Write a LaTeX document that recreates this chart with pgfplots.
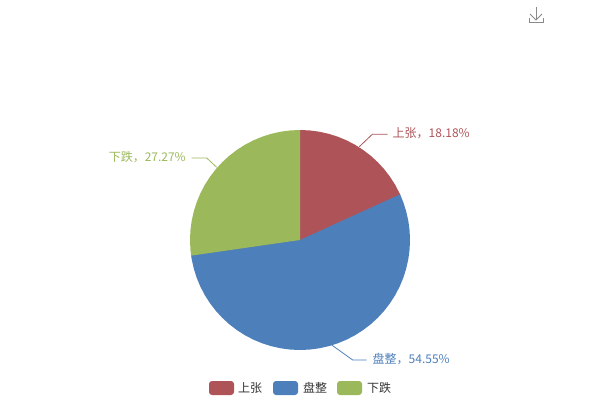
\documentclass[border=0pt]{standalone}
\usepackage{pgfplots}
\pgfplotsset{compat=1.18}
\usepackage{fontspec}
\setmainfont{Noto Sans CJK SC}
\definecolor{cred}{HTML}{AE5459}
\definecolor{cblue}{HTML}{4D7FBB}
\definecolor{cgreen}{HTML}{9BB95A}
\definecolor{ctext}{HTML}{333333}
\definecolor{cicon}{HTML}{8A8A8A}
\begin{document}
\begin{tikzpicture}
\begin{axis}[
  scale only axis, width=600pt, height=400pt,
  xmin=-300, xmax=300, ymin=-160, ymax=240,
  axis lines=none, clip=false,
  every axis plot/.append style={line join=round},
  nodes={font=\fontsize{12}{14}\selectfont, inner sep=0pt}
]
\path[use as bounding box] (axis cs:-300,-160) rectangle (axis cs:300,240);
% slices: 18.18 %, 54.55 %, 27.27 %
\addplot[data cs=polar, fill=cred, draw=none] coordinates {
 (0,0) (90,110) (85,110) (80,110) (75,110) (70,110) (65,110) (60,110) (55,110) (50,110)
 (45,110) (40,110) (35,110) (30,110) (25,110) (24.545,110)} \closedcycle;
\addplot[data cs=polar, fill=cblue, draw=none] coordinates {
 (0,0) (24.545,110) (20,110) (15,110) (10,110) (5,110) (0,110) (-5,110) (-10,110) (-15,110)
 (-20,110) (-25,110) (-30,110) (-35,110) (-40,110) (-45,110) (-50,110) (-55,110) (-60,110)
 (-65,110) (-70,110) (-75,110) (-80,110) (-85,110) (-90,110) (-95,110) (-100,110) (-105,110)
 (-110,110) (-115,110) (-120,110) (-125,110) (-130,110) (-135,110) (-140,110) (-145,110)
 (-150,110) (-155,110) (-160,110) (-165,110) (-170,110) (-171.82,110)} \closedcycle;
\addplot[data cs=polar, fill=cgreen, draw=none] coordinates {
 (0,0) (-171.82,110) (-175,110) (-180,110) (-185,110) (-190,110) (-195,110) (-200,110)
 (-205,110) (-210,110) (-215,110) (-220,110) (-225,110) (-230,110) (-235,110) (-240,110)
 (-245,110) (-250,110) (-255,110) (-260,110) (-265,110) (-270,110)} \closedcycle;
% leader lines
\addplot[cred, line width=0.8pt, no marks] coordinates {(59.3,93.3) (72.3,105.7) (87.7,105.7)};
\addplot[cgreen, line width=0.8pt, no marks] coordinates {(-83.3,72.7) (-93.3,82) (-108.3,82)};
\addplot[cblue, line width=0.8pt, no marks] coordinates {(31.7,-105) (52.7,-120) (66.7,-120)};
% labels
\node[anchor=west, text=cred] at (axis cs:92.5,106.5) {上张，18.18\%};
\node[anchor=east, text=cgreen] at (axis cs:-114,83) {下跌，27.27\%};
\node[anchor=west, text=cblue] at (axis cs:72.5,-119) {盘整，54.55\%};
% legend
\fill[cred, rounded corners=3pt] (axis cs:-91,-155) rectangle (axis cs:-66,-141);
\fill[cblue, rounded corners=3pt] (axis cs:-27,-155) rectangle (axis cs:-2,-141);
\fill[cgreen, rounded corners=3pt] (axis cs:37,-155) rectangle (axis cs:62,-141);
\node[anchor=west, text=ctext] at (axis cs:-62,-148) {上张};
\node[anchor=west, text=ctext] at (axis cs:3,-148) {盘整};
\node[anchor=west, text=ctext] at (axis cs:67,-148) {下跌};
% download icon
\draw[cicon, line width=0.9pt] (axis cs:236,233) -- (axis cs:236,220);
\draw[cicon, line width=0.9pt] (axis cs:230,226) -- (axis cs:236,220) -- (axis cs:242,226);
\draw[cicon, line width=0.9pt] (axis cs:229,222) -- (axis cs:229,218) -- (axis cs:243,218) -- (axis cs:243,222);
\end{axis}
\end{tikzpicture}
\end{document}
